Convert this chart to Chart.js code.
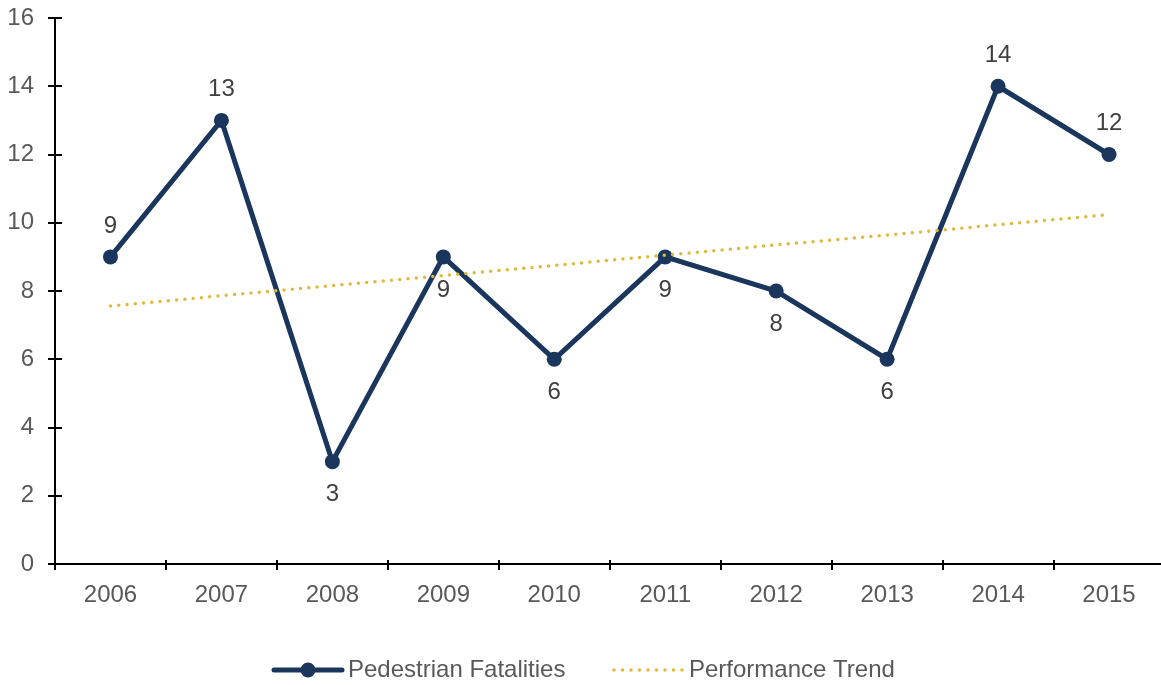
<!DOCTYPE html>
<html>
<head>
<meta charset="utf-8">
<script src="https://cdn.jsdelivr.net/npm/chart.js@4/dist/chart.umd.min.js"></script>
<style>
  html, body { margin: 0; padding: 0; background: #fff; overflow: hidden; }
  #wrap { width: 1161px; height: 685px; overflow: hidden; }
</style>
</head>
<body>
<div id="wrap"><canvas id="chart" width="1172" height="685"></canvas></div>
<script>
const years = ['2006', '2007', '2008', '2009', '2010', '2011', '2012', '2013', '2014', '2015'];
const fatalities = [9, 13, 3, 9, 6, 9, 8, 6, 14, 12];
const trend = [7.56, 7.86, 8.16, 8.45, 8.75, 9.05, 9.35, 9.64, 9.94, 10.24];
const labelAbove = [true, true, false, false, false, false, false, false, true, true];
const yTicks = [0, 2, 4, 6, 8, 10, 12, 14, 16];

const NAVY = '#1b365d';
const GOLD = '#dfb93b';
const TEXT = '#595959';
const FONT = '"Liberation Sans", Arial, sans-serif';

// axes with ticks crossing the line, drawn from the scales
const axesPlugin = {
  id: 'axes',
  beforeDatasetsDraw(chart) {
    const { ctx, chartArea, scales } = chart;
    const x = scales.x, y = scales.y;
    ctx.save();
    ctx.strokeStyle = '#000';
    ctx.lineWidth = 2;
    ctx.beginPath();
    ctx.moveTo(chartArea.left, chartArea.top);
    ctx.lineTo(chartArea.left, chartArea.bottom);
    ctx.lineTo(chartArea.right, chartArea.bottom);
    ctx.stroke();
    yTicks.forEach(v => {
      const py = Math.round(y.getPixelForValue(v));
      ctx.beginPath();
      ctx.moveTo(chartArea.left - 7, py);
      ctx.lineTo(chartArea.left + 7, py);
      ctx.stroke();
    });
    const step = x.getPixelForValue(1) - x.getPixelForValue(0);
    for (let i = 0; i < years.length; i++) {
      const px = Math.round(x.getPixelForValue(i) - step / 2);
      ctx.beginPath();
      ctx.moveTo(px, chartArea.bottom - 4);
      ctx.lineTo(px, chartArea.bottom + 6);
      ctx.stroke();
    }
    ctx.restore();
  }
};

const labelsPlugin = {
  id: 'valueLabels',
  afterDatasetsDraw(chart) {
    const { ctx } = chart;
    const meta = chart.getDatasetMeta(0);
    ctx.save();
    ctx.font = '24px ' + FONT;
    ctx.fillStyle = '#404040';
    ctx.textAlign = 'center';
    ctx.textBaseline = 'middle';
    meta.data.forEach((pt, i) => {
      const dy = labelAbove[i] ? -31 : 33;
      ctx.fillText(String(fatalities[i]), pt.x, pt.y + dy);
    });
    ctx.restore();
  }
};

const legendPlugin = {
  id: 'customLegend',
  afterDraw(chart) {
    const { ctx } = chart;
    const ly = 670;
    const ds = chart.data.datasets;
    ctx.save();
    ctx.font = '24px ' + FONT;
    ctx.textBaseline = 'middle';
    ctx.textAlign = 'left';
    // series 1: line with marker
    ctx.strokeStyle = ds[0].borderColor;
    ctx.lineWidth = 5;
    ctx.lineCap = 'round';
    ctx.beginPath();
    ctx.moveTo(274, ly);
    ctx.lineTo(342, ly);
    ctx.stroke();
    ctx.fillStyle = ds[0].borderColor;
    ctx.beginPath();
    ctx.arc(308, ly, 7.5, 0, Math.PI * 2);
    ctx.fill();
    ctx.fillStyle = TEXT;
    ctx.fillText(ds[0].label, 348, ly);
    // series 2: dotted
    ctx.strokeStyle = ds[1].borderColor;
    ctx.lineWidth = 3.5;
    ctx.setLineDash([0, 8.5]);
    ctx.beginPath();
    ctx.moveTo(614, ly);
    ctx.lineTo(684, ly);
    ctx.stroke();
    ctx.setLineDash([]);
    ctx.fillStyle = TEXT;
    ctx.fillText(ds[1].label, 689, ly);
    ctx.restore();
  }
};

new Chart(document.getElementById('chart'), {
  type: 'line',
  data: {
    labels: years,
    datasets: [
      {
        label: 'Pedestrian Fatalities',
        data: fatalities,
        borderColor: NAVY,
        backgroundColor: NAVY,
        borderWidth: 5,
        pointRadius: 7.5,
        pointBackgroundColor: NAVY,
        pointBorderWidth: 0,
        pointHoverRadius: 7.5,
        tension: 0,
        order: 1
      },
      {
        label: 'Performance Trend',
        data: trend,
        borderColor: GOLD,
        borderWidth: 3.5,
        borderDash: [0, 8.3],
        borderCapStyle: 'round',
        pointRadius: 0,
        tension: 0,
        order: 0
      }
    ]
  },
  options: {
    responsive: false,
    animation: false,
    devicePixelRatio: 1,
    layout: { padding: { top: 18, right: 0, left: 0, bottom: 0 } },
    plugins: {
      legend: { display: false },
      tooltip: { enabled: false }
    },
    scales: {
      x: {
        offset: true,
        grid: { display: false },
        border: { display: false },
        ticks: {
          color: TEXT,
          font: { family: FONT, size: 24 },
          padding: 9,
          maxRotation: 0
        },
        afterFit(scale) { scale.height = 121; }
      },
      y: {
        min: 0,
        max: 16,
        grid: { display: false },
        border: { display: false },
        ticks: {
          stepSize: 2,
          color: TEXT,
          font: { family: FONT, size: 24, lineHeight: 0.4 },
          padding: 13
        },
        afterFit(scale) { scale.width = 55; }
      }
    }
  },
  plugins: [axesPlugin, labelsPlugin, legendPlugin]
});
</script>
</body>
</html>
